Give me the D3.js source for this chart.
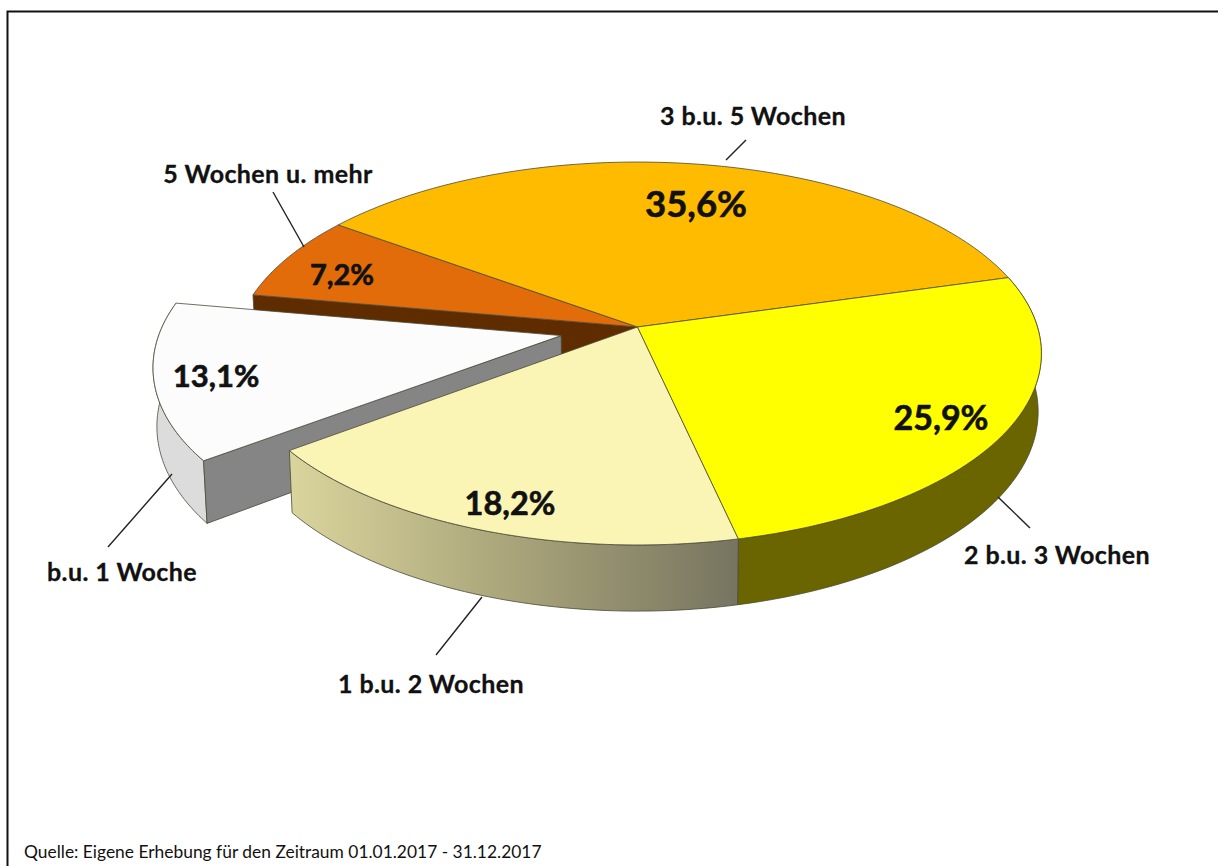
<!DOCTYPE html>
<html><head><meta charset="utf-8">
<script src="https://cdnjs.cloudflare.com/ajax/libs/d3/7.8.5/d3.min.js"></script>
<style>html,body{margin:0;padding:0;background:#fff}svg{display:block}
text{font-family:Lato,"Open Sans",sans-serif;fill:#111}</style></head>
<body><svg id="c" width="1218" height="866"></svg>
<script>
const categories=["3 b.u. 5 Wochen","2 b.u. 3 Wochen","1 b.u. 2 Wochen","b.u. 1 Woche","5 Wochen u. mehr"];
const percents=[35.6,25.9,18.2,13.1,7.2];
const percentLabels=["35,6%","25,9%","18,2%","13,1%","7,2%"];
const topColors=["#FFBB00","#FFFF00","#FBF5B5","#FCFCFD","#E26B0A"];
const sideColors=["#7F5D00","#6B6500","url(#creamSide)","#DCDCDC","#5F2C00"];
const exploded=[0,0,0,0.195,0];
const source="Quelle: Eigene Erhebung für den Zeitraum 01.01.2017 - 31.12.2017";

const svg=d3.select("#c");
const defs=svg.append("defs");
const g=defs.append("linearGradient").attr("id","creamSide").attr("gradientUnits","userSpaceOnUse")
  .attr("x1",293).attr("x2",740).attr("y1",0).attr("y2",0);
g.append("stop").attr("offset",0).attr("stop-color","#D9D49C");
g.append("stop").attr("offset",0.45).attr("stop-color","#ADA87C");
g.append("stop").attr("offset",1).attr("stop-color","#767460");

svg.append("path").attr("d","M7.5,866V11.5H1218").attr("fill","none")
  .attr("stroke","#111").attr("stroke-width",2);

// perspective projection of the pie plane
const k=0.1384, cx=637.5, cy=327;
const sx=d3.scaleLinear().domain([-1,1]).range([cx-400,cx+400]);
const sy=d3.scaleLinear().domain([-1,1]).range([cy-187.8,cy+187.8]);
const depth=57;
function P(u,v,z){const w=1-k*v;
  return [cx+(sx(u)-cx)/w*(1-0.008*z), cy+((sy(v)-cy)+depth*z)/w];}

const rotation=-54;
const slices=d3.pie().sort(null).value(d=>d)
  .startAngle(rotation*Math.PI/180).endAngle((360+rotation)*Math.PI/180)(percents);
const line=d3.line();
const stroke="#4a4a3a";

function offs(i){const s=slices[i],m=(s.startAngle+s.endAngle)/2,d=exploded[i];
  return [d*Math.sin(m),-d*Math.cos(m)];}
function rim(i,z){const s=slices[i],[ox,oy]=offs(i),n=60;
  return d3.range(n+1).map(t=>{const a=s.startAngle+(s.endAngle-s.startAngle)*t/n;
    return P(ox+Math.sin(a),oy-Math.cos(a),z);});}
function apex(i,z){const [ox,oy]=offs(i);return P(ox,oy,z);}

function poly(pts,fill){svg.append("path").attr("d",line(pts)+"Z").attr("fill",fill)
  .attr("stroke",stroke).attr("stroke-width",0.8).attr("stroke-linejoin","round");}
const drawTop=i=>poly([apex(i,0),...rim(i,0)],topColors[i]);
const drawSide=i=>poly([...rim(i,0),...rim(i,1).reverse()],sideColors[i]);
function drawCut(i,atEnd,fill){const r=rim(i,0),b=rim(i,1),e=atEnd?r.length-1:0;
  poly([apex(i,0),r[e],b[e],apex(i,1)],fill);}

// painter's order, far to near
drawCut(4,false,sideColors[4]);
drawTop(4); drawTop(0);
drawSide(3); drawCut(3,false,"#858585"); drawTop(3);
drawSide(1); drawSide(2);
drawTop(2); drawTop(1);

// value labels
const valueLayout=[[696,203,36.5],[941,416,34],[510,502,32.5],[216,375,31],[342,273,29]];
svg.append("g").selectAll("text").data(percentLabels).join("text")
  .attr("x",(d,i)=>valueLayout[i][0]).attr("y",(d,i)=>valueLayout[i][1])
  .attr("font-size",(d,i)=>valueLayout[i][2]).attr("font-weight",700)
  .attr("stroke","#111").attr("stroke-width",0.6)
  .attr("text-anchor","middle").attr("dominant-baseline","central").text(d=>d);

// category labels and leaders
const catLayout=[[753,115],[1057,554],[431,683],[122,571],[268,173]];
svg.append("g").selectAll("text").data(categories).join("text")
  .attr("x",(d,i)=>catLayout[i][0]).attr("y",(d,i)=>catLayout[i][1])
  .attr("font-size",25).attr("font-weight",700).attr("letter-spacing",0.4)
  .attr("stroke","#111").attr("stroke-width",0.3)
  .attr("text-anchor","middle").attr("dominant-baseline","central").text(d=>d);
const leaders=[[[726,160],[746,140]],[[998,497],[1030,528]],[[482,597],[436,655]],[[172,474],[108,547]],[[304,247],[273,192]]];
svg.append("g").selectAll("path").data(leaders).join("path")
  .attr("d",d=>line(d)).attr("stroke","#222").attr("stroke-width",1.4).attr("fill","none");

svg.append("text").attr("x",24).attr("y",858).attr("font-size",17.4).attr("fill","#222").text(source);
</script></body></html>
